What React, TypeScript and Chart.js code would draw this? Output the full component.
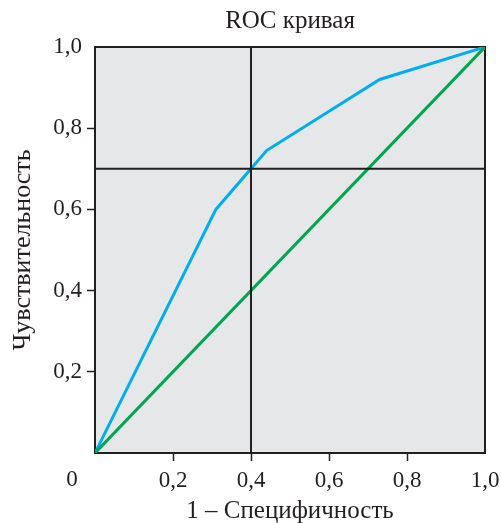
import React, { useEffect, useRef } from "react";
import { Chart, registerables } from "chart.js";

Chart.register(...registerables);

const rocX = [0, 0.31, 0.4, 0.44, 0.73, 1];
const rocY = [0, 0.6, 0.7, 0.745, 0.92, 1];
const diagX = [0, 1];
const diagY = [0, 1];
const cutX = 0.4;
const cutY = 0.7;
const tickValues = [0, 0.2, 0.4, 0.6, 0.8, 1.0];
const chartTitle = "ROC кривая";

const fmt = (v: number) => v.toFixed(1).replace(".", ",");
const FONT = "'Liberation Serif', 'Times New Roman', serif";
const INK = "#231f20";

const extraText = {
  id: "extraText",
  afterDraw(chart: any) {
    const { ctx, chartArea } = chart;
    ctx.save();
    ctx.fillStyle = INK;
    ctx.textAlign = "center";
    ctx.font = `23px ${FONT}`;
    ctx.textBaseline = "top";
    ctx.fillText("0", chartArea.left - 23, chartArea.bottom + 15);
    ctx.font = `25px ${FONT}`;
    ctx.textBaseline = "alphabetic";
    ctx.fillText(chartTitle, (chartArea.left + chartArea.right) / 2, 28);
    ctx.restore();
  },
};

export default function App() {
  const ref = useRef<HTMLCanvasElement>(null);
  useEffect(() => {
    document.body.style.margin = "0";
    const chart = new Chart(ref.current!, {
      type: "scatter",
      data: {
        datasets: [
          {
            data: [
              { x: cutX, y: 0 },
              { x: cutX, y: 1 },
            ],
            borderColor: INK,
            borderWidth: 2,
            showLine: true,
            pointRadius: 0,
          },
          {
            data: [
              { x: 0, y: cutY },
              { x: 1, y: cutY },
            ],
            borderColor: INK,
            borderWidth: 2,
            showLine: true,
            pointRadius: 0,
          },
          {
            data: diagX.map((x, i) => ({ x, y: diagY[i] })),
            borderColor: "#00a651",
            borderWidth: 3,
            showLine: true,
            pointRadius: 0,
          },
          {
            data: rocX.map((x, i) => ({ x, y: rocY[i] })),
            borderColor: "#00aeef",
            borderWidth: 3,
            showLine: true,
            pointRadius: 0,
          },
        ],
      },
      options: {
        animation: false,
        responsive: false,
        layout: { padding: { top: 47, right: 16, bottom: 0, left: 0 } },
        plugins: {
          legend: { display: false },
          tooltip: { enabled: false },
          title: { display: false },
        },
        scales: {
          x: {
            type: "linear",
            min: 0,
            max: 1,
            afterBuildTicks: (s: any) => {
              s.ticks = tickValues.map((v) => ({ value: v }));
            },
            afterFit: (s: any) => {
              s.height = 70;
              s.paddingLeft = 0;
              s.paddingRight = 0;
            },
            ticks: {
              callback: (v: any) => (v === 0 ? "" : fmt(Number(v))),
              color: INK,
              font: { family: FONT, size: 23 },
              padding: 6,
              maxRotation: 0,
            },
            grid: {
              drawOnChartArea: false,
              drawTicks: true,
              tickLength: 8,
              tickColor: (c: any) =>
                c.tick && (c.tick.value === 0 || c.tick.value === 1) ? "rgba(0,0,0,0)" : INK,
              tickWidth: 1.5,
            },
            border: { display: true, color: INK, width: 2 },
            title: {
              display: true,
              text: "1 – Специфичность",
              color: INK,
              font: { family: FONT, size: 25 },
              padding: { top: 0, bottom: -3 },
            },
          },
          y: {
            type: "linear",
            min: 0,
            max: 1,
            afterBuildTicks: (s: any) => {
              s.ticks = tickValues.map((v) => ({ value: v }));
            },
            afterFit: (s: any) => {
              s.width = 95;
              s.paddingTop = 0;
              s.paddingBottom = 0;
            },
            ticks: {
              callback: (v: any) => (v === 0 ? "" : fmt(Number(v))),
              color: INK,
              font: { family: FONT, size: 23 },
              padding: 5,
            },
            grid: {
              drawOnChartArea: false,
              drawTicks: true,
              tickLength: 8,
              tickColor: (c: any) =>
                c.tick && (c.tick.value === 0 || c.tick.value === 1) ? "rgba(0,0,0,0)" : INK,
              tickWidth: 1.5,
            },
            border: { display: true, color: INK, width: 2 },
            title: {
              display: true,
              text: "Чувствительность",
              color: INK,
              font: { family: FONT, size: 26 },
              padding: { top: 8, bottom: 0 },
            },
          },
        },
      },
      plugins: [
        extraText,
        {
          id: "bg",
          beforeDraw(chart: any) {
            const { ctx, chartArea: a } = chart;
            ctx.save();
            ctx.fillStyle = "#e6e7e8";
            ctx.fillRect(a.left, a.top, a.right - a.left, a.bottom - a.top);
            ctx.strokeStyle = INK;
            ctx.lineWidth = 2;
            ctx.strokeRect(a.left, a.top, a.right - a.left, a.bottom - a.top);
            ctx.restore();
          },
        },
      ],
    });
    return () => chart.destroy();
  }, []);
  return (
    <div style={{ width: 501, height: 523, background: "#fff" }}>
      <canvas ref={ref} width={501} height={523} />
    </div>
  );
}
